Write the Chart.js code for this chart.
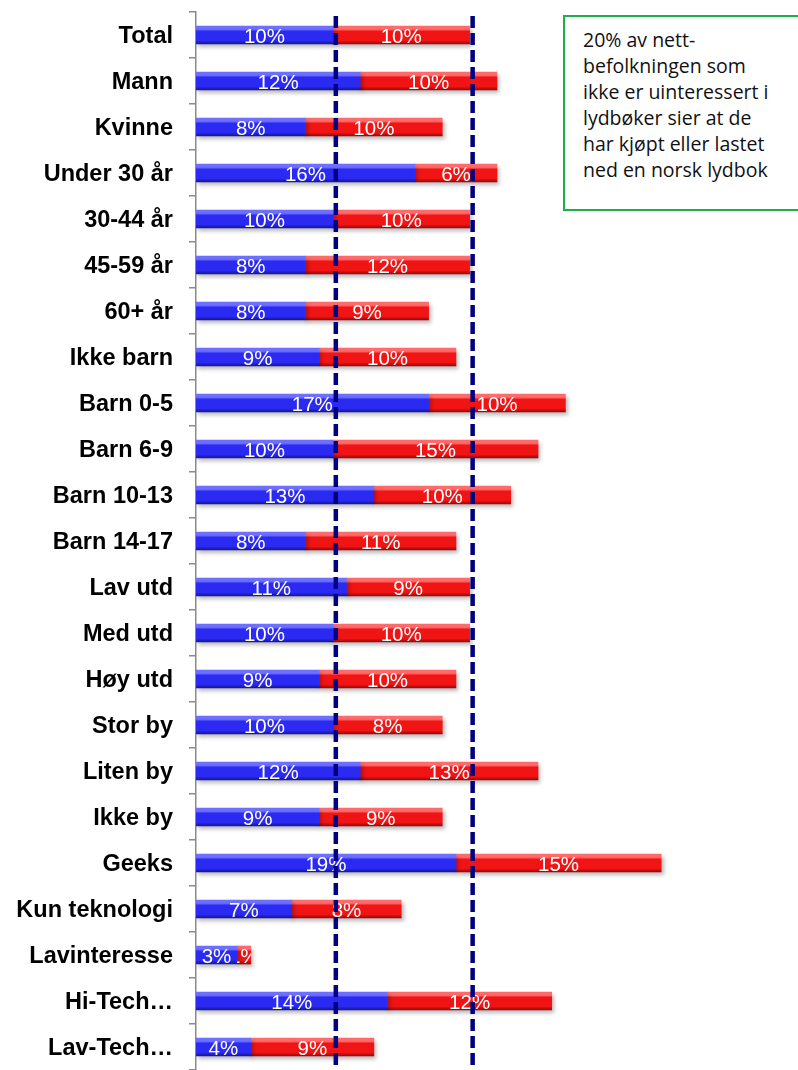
<!DOCTYPE html>
<html>
<head>
<meta charset="utf-8">
<script src="https://cdn.jsdelivr.net/npm/chart.js@4.4.1/dist/chart.umd.min.js"></script>
<style>
  body { margin: 0; background: #fff; }
  #wrap { position: relative; width: 798px; height: 1070px; overflow: hidden; }
  #note {
    position: absolute; left: 563px; top: 15px; width: 250px; height: 196px;
    border: 2px solid #1fae4a; background: #fff;
    font-family: "Open Sans", sans-serif; font-size: 19.5px; line-height: 26px;
    color: #111; padding: 10px 0 0 18px; box-sizing: border-box; white-space: nowrap;
  }
</style>
</head>
<body>
<div id="wrap">
  <canvas id="myChart" width="798" height="1070"></canvas>
  <div id="note">20% av nett-<br>befolkningen som<br>ikke er uinteressert i<br>lydbøker sier at de<br>har kjøpt eller lastet<br>ned en norsk lydbok</div>
</div>
<script>
// groups
var groups = ["Total", "Mann", "Kvinne", "Under 30 år", "30-44 år", "45-59 år", "60+ år",
  "Ikke barn", "Barn 0-5", "Barn 6-9", "Barn 10-13", "Barn 14-17", "Lav utd", "Med utd",
  "Høy utd", "Stor by", "Liten by", "Ikke by", "Geeks", "Kun teknologi", "Lavinteresse",
  "Hi-Tech…", "Lav-Tech…"];

// blue part / red part (percent)
var bluePart = [10, 12, 8, 16, 10, 8, 8, 9, 17, 10, 13, 8, 11, 10, 9, 10, 12, 9, 19, 7, 3, 14, 4];
var redPart  = [10, 10, 10, 6, 10, 12, 9, 10, 10, 15, 10, 11, 9, 10, 10, 8, 13, 9, 15, 8, 1, 12, 9];

// dashed reference lines
var refLines = [10, 20];

function bevel(top, mid, dark) {
  return function (c) {
    var chart = c.chart;
    if (!chart.chartArea || !chart.scales.y) return mid;
    var y = chart.scales.y.getPixelForValue(c.dataIndex);
    var g = chart.ctx.createLinearGradient(0, y - 9, 0, y + 9);
    g.addColorStop(0, top);
    g.addColorStop(0.18, top);
    g.addColorStop(0.3, mid);
    g.addColorStop(0.8, mid);
    g.addColorStop(1, dark);
    return g;
  };
}

// soft drop shadow under the bars
var barShadow = {
  id: "barShadow",
  beforeDatasetsDraw: function (chart) {
    var ctx = chart.ctx;
    ctx.save();
    ctx.shadowColor = "rgba(0,0,0,0.28)";
    ctx.shadowBlur = 4;
    ctx.shadowOffsetX = 2;
    ctx.shadowOffsetY = 3;
  },
  afterDatasetsDraw: function (chart) {
    chart.ctx.restore();
  }
};

// white value labels inside each segment, then the dashed lines on top
var barLabels = {
  id: "barLabels",
  afterDraw: function (chart) {
    var ctx = chart.ctx;
    ctx.save();
    ctx.font = "20.5px 'Liberation Sans', Arial, sans-serif";
    ctx.fillStyle = "#fff";
    ctx.textAlign = "center";
    ctx.textBaseline = "middle";
    chart.data.datasets.forEach(function (ds, di) {
      chart.getDatasetMeta(di).data.forEach(function (bar, i) {
        var x0 = Math.min(bar.base, bar.x), x1 = Math.max(bar.base, bar.x);
        ctx.save();
        ctx.beginPath();
        // the first segment's label may run past its end, the last one is cut at the bar
        ctx.rect(x0, bar.y - 14, x1 - x0 + (di === 0 ? 20 : 0), 28);
        ctx.clip();
        ctx.fillText(ds.data[i] + "%", (x0 + x1) / 2, bar.y + 2);
        ctx.restore();
      });
    });

    ctx.strokeStyle = "#000080";
    ctx.lineWidth = 4.5;
    ctx.setLineDash([12, 5]);
    refLines.forEach(function (v) {
      var x = chart.scales.x.getPixelForValue(v) + 3;
      ctx.beginPath();
      ctx.moveTo(x, 16);
      ctx.lineTo(x, chart.height);
      ctx.stroke();
    });
    ctx.restore();
  }
};

new Chart(document.getElementById("myChart"), {
  type: "bar",
  data: {
    labels: groups,
    datasets: [
      {
        label: "blue",
        data: bluePart,
        backgroundColor: bevel("#6f6fff", "#2a2af2", "#15159a"),
        barThickness: 18,
      },
      {
        label: "red",
        data: redPart,
        backgroundColor: bevel("#ff6a6a", "#f01414", "#9c0606"),
        barThickness: 18,
      },
    ],
  },
  options: {
    indexAxis: "y",
    responsive: false,
    animation: false,
    layout: { padding: { top: 12, right: 0, bottom: 0, left: 0 } },
    plugins: {
      legend: { display: false },
      tooltip: { enabled: false },
    },
    scales: {
      x: {
        stacked: true,
        display: false,
        min: 0,
        max: 44,
      },
      y: {
        stacked: true,
        afterFit: function (s) {
          s.width = 196;
          s.paddingTop = 0;
          s.paddingBottom = 0;
        },
        border: { color: "#8a8a8a", width: 1.5 },
        grid: {
          drawOnChartArea: false,
          drawTicks: true,
          tickLength: 7,
          color: "#8a8a8a",
          lineWidth: 1.5,
        },
        ticks: {
          padding: 16,
          labelOffset: 2,
          color: "#000",
          font: { family: "'Liberation Sans', Arial, sans-serif", size: 23.5, weight: "bold" },
        },
      },
    },
  },
  plugins: [barShadow, barLabels],
});
</script>
</body>
</html>
